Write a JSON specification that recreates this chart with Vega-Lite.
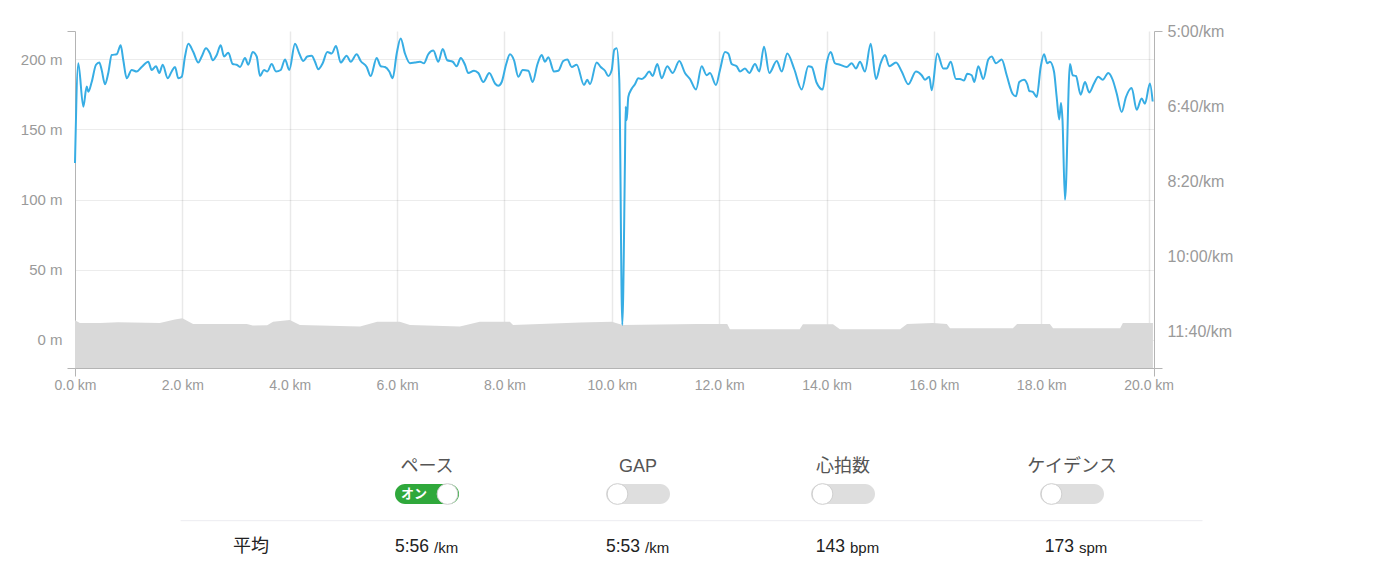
{
  "$schema": "https://vega.github.io/schema/vega-lite/v6.json",
  "background": "white",
  "padding": {"left": 20, "top": 23, "right": 0, "bottom": 0},
  "spacing": 62,
  "config": {
    "view": {"stroke": null},
    "font": "Liberation Sans",
    "axis": {
      "labelFont": "Liberation Sans",
      "labelFontSize": 15,
      "labelColor": "#9a9a9a",
      "domainColor": "#b4b4b4",
      "tickColor": "#b4b4b4",
      "tickSize": 8,
      "gridColor": "#000000",
      "labelFlush": false,
      "labelOverlap": false,
      "title": null,
      "zindex": 1
    }
  },
  "datasets": {
    "elev": [
      {"d": 0, "e": 14}, {"d": 0.09, "e": 12}, {"d": 0.47, "e": 12}, {"d": 0.8, "e": 12.5}, {"d": 1.58, "e": 12},
      {"d": 1.86, "e": 14.5}, {"d": 2.0, "e": 15.4}, {"d": 2.2, "e": 11.4}, {"d": 3.2, "e": 11.4}, {"d": 3.31, "e": 10.2},
      {"d": 3.58, "e": 10.5}, {"d": 3.69, "e": 13}, {"d": 4.0, "e": 14.2}, {"d": 4.19, "e": 10.7}, {"d": 4.56, "e": 10.2},
      {"d": 5.31, "e": 9.5}, {"d": 5.63, "e": 13}, {"d": 6.05, "e": 13}, {"d": 6.24, "e": 10.7}, {"d": 7.17, "e": 9.5},
      {"d": 7.54, "e": 13}, {"d": 8.1, "e": 13}, {"d": 8.16, "e": 10.7}, {"d": 9.41, "e": 12.4}, {"d": 10.0, "e": 13},
      {"d": 10.2, "e": 10.7}, {"d": 11.59, "e": 11.4}, {"d": 12.15, "e": 11.4}, {"d": 12.2, "e": 7.6}, {"d": 13.5, "e": 7.6},
      {"d": 13.56, "e": 11.2}, {"d": 14.12, "e": 11.2}, {"d": 14.25, "e": 7.6}, {"d": 15.37, "e": 7.6}, {"d": 15.5, "e": 11.4},
      {"d": 15.98, "e": 12}, {"d": 16.24, "e": 11.4}, {"d": 16.3, "e": 8.3}, {"d": 17.47, "e": 8.3}, {"d": 17.55, "e": 11.4},
      {"d": 18.16, "e": 11.4}, {"d": 18.22, "e": 8.3}, {"d": 19.47, "e": 8.3}, {"d": 19.52, "e": 12}, {"d": 20.08, "e": 12}
    ],
    "pace": [
      {"d": 0, "p": 476}, {"d": 0.061, "p": 343}, {"d": 0.155, "p": 401}, {"d": 0.218, "p": 374}, {"d": 0.248, "p": 381},
      {"d": 0.311, "p": 368}, {"d": 0.391, "p": 345}, {"d": 0.453, "p": 342}, {"d": 0.497, "p": 352}, {"d": 0.559, "p": 371},
      {"d": 0.62, "p": 356}, {"d": 0.684, "p": 332}, {"d": 0.777, "p": 331}, {"d": 0.851, "p": 319}, {"d": 0.9, "p": 339},
      {"d": 0.963, "p": 363}, {"d": 1.056, "p": 352}, {"d": 1.149, "p": 354}, {"d": 1.242, "p": 348}, {"d": 1.365, "p": 341},
      {"d": 1.429, "p": 352}, {"d": 1.509, "p": 347}, {"d": 1.57, "p": 356}, {"d": 1.634, "p": 345}, {"d": 1.727, "p": 363},
      {"d": 1.801, "p": 354}, {"d": 1.863, "p": 348}, {"d": 1.924, "p": 363}, {"d": 1.988, "p": 361}, {"d": 2.049, "p": 334},
      {"d": 2.111, "p": 317}, {"d": 2.204, "p": 328}, {"d": 2.297, "p": 342}, {"d": 2.36, "p": 334}, {"d": 2.44, "p": 323},
      {"d": 2.515, "p": 330}, {"d": 2.565, "p": 339}, {"d": 2.64, "p": 332}, {"d": 2.714, "p": 319}, {"d": 2.776, "p": 334},
      {"d": 2.856, "p": 329}, {"d": 2.938, "p": 344}, {"d": 3.012, "p": 345}, {"d": 3.074, "p": 348}, {"d": 3.167, "p": 336},
      {"d": 3.228, "p": 345}, {"d": 3.31, "p": 328}, {"d": 3.385, "p": 334}, {"d": 3.446, "p": 360}, {"d": 3.521, "p": 352},
      {"d": 3.582, "p": 354}, {"d": 3.664, "p": 344}, {"d": 3.744, "p": 354}, {"d": 3.832, "p": 352}, {"d": 3.912, "p": 338},
      {"d": 3.992, "p": 352}, {"d": 4.098, "p": 317}, {"d": 4.178, "p": 330}, {"d": 4.253, "p": 340}, {"d": 4.327, "p": 334},
      {"d": 4.409, "p": 333}, {"d": 4.471, "p": 341}, {"d": 4.532, "p": 351}, {"d": 4.614, "p": 343}, {"d": 4.7, "p": 328},
      {"d": 4.782, "p": 330}, {"d": 4.862, "p": 320}, {"d": 4.949, "p": 342}, {"d": 5.061, "p": 333}, {"d": 5.136, "p": 341},
      {"d": 5.247, "p": 331}, {"d": 5.322, "p": 340}, {"d": 5.434, "p": 348}, {"d": 5.508, "p": 360}, {"d": 5.62, "p": 336},
      {"d": 5.695, "p": 347}, {"d": 5.775, "p": 348}, {"d": 5.855, "p": 354}, {"d": 5.918, "p": 363}, {"d": 5.993, "p": 330},
      {"d": 6.067, "p": 310}, {"d": 6.147, "p": 330}, {"d": 6.24, "p": 343}, {"d": 6.333, "p": 342}, {"d": 6.427, "p": 341},
      {"d": 6.501, "p": 343}, {"d": 6.581, "p": 331}, {"d": 6.675, "p": 326}, {"d": 6.768, "p": 341}, {"d": 6.85, "p": 324},
      {"d": 6.935, "p": 339}, {"d": 7.036, "p": 341}, {"d": 7.11, "p": 347}, {"d": 7.185, "p": 336}, {"d": 7.265, "p": 345},
      {"d": 7.326, "p": 356}, {"d": 7.433, "p": 353}, {"d": 7.513, "p": 356}, {"d": 7.606, "p": 368}, {"d": 7.718, "p": 356},
      {"d": 7.824, "p": 370}, {"d": 7.885, "p": 373}, {"d": 7.949, "p": 368}, {"d": 8.029, "p": 345}, {"d": 8.103, "p": 331},
      {"d": 8.178, "p": 339}, {"d": 8.258, "p": 361}, {"d": 8.34, "p": 352}, {"d": 8.444, "p": 353}, {"d": 8.526, "p": 368},
      {"d": 8.612, "p": 345}, {"d": 8.694, "p": 332}, {"d": 8.755, "p": 341}, {"d": 8.817, "p": 335}, {"d": 8.923, "p": 354},
      {"d": 9.003, "p": 353}, {"d": 9.096, "p": 340}, {"d": 9.171, "p": 338}, {"d": 9.253, "p": 348}, {"d": 9.346, "p": 345},
      {"d": 9.482, "p": 372}, {"d": 9.543, "p": 365}, {"d": 9.593, "p": 371}, {"d": 9.718, "p": 342}, {"d": 9.793, "p": 348},
      {"d": 9.873, "p": 353}, {"d": 9.934, "p": 360}, {"d": 9.998, "p": 352}, {"d": 10.046, "p": 325}, {"d": 10.091, "p": 323},
      {"d": 10.139, "p": 365}, {"d": 10.195, "p": 692}, {"d": 10.245, "p": 472}, {"d": 10.258, "p": 401}, {"d": 10.277, "p": 419},
      {"d": 10.307, "p": 388}, {"d": 10.37, "p": 377}, {"d": 10.431, "p": 371}, {"d": 10.493, "p": 363}, {"d": 10.556, "p": 364},
      {"d": 10.618, "p": 361}, {"d": 10.698, "p": 354}, {"d": 10.761, "p": 360}, {"d": 10.847, "p": 344}, {"d": 10.929, "p": 363},
      {"d": 11.033, "p": 347}, {"d": 11.134, "p": 356}, {"d": 11.257, "p": 340}, {"d": 11.363, "p": 356}, {"d": 11.456, "p": 364},
      {"d": 11.568, "p": 378}, {"d": 11.674, "p": 347}, {"d": 11.767, "p": 359}, {"d": 11.829, "p": 356}, {"d": 11.94, "p": 372},
      {"d": 12.015, "p": 352}, {"d": 12.108, "p": 328}, {"d": 12.17, "p": 330}, {"d": 12.233, "p": 344}, {"d": 12.326, "p": 347},
      {"d": 12.388, "p": 354}, {"d": 12.481, "p": 350}, {"d": 12.561, "p": 356}, {"d": 12.667, "p": 344}, {"d": 12.747, "p": 354},
      {"d": 12.835, "p": 321}, {"d": 12.934, "p": 356}, {"d": 13.072, "p": 340}, {"d": 13.165, "p": 354}, {"d": 13.269, "p": 330},
      {"d": 13.399, "p": 351}, {"d": 13.537, "p": 378}, {"d": 13.66, "p": 347}, {"d": 13.723, "p": 348}, {"d": 13.816, "p": 369},
      {"d": 13.928, "p": 378}, {"d": 14.002, "p": 343}, {"d": 14.077, "p": 328}, {"d": 14.157, "p": 343}, {"d": 14.25, "p": 345},
      {"d": 14.375, "p": 348}, {"d": 14.468, "p": 343}, {"d": 14.548, "p": 350}, {"d": 14.623, "p": 341}, {"d": 14.716, "p": 354},
      {"d": 14.822, "p": 317}, {"d": 14.921, "p": 364}, {"d": 15.008, "p": 343}, {"d": 15.089, "p": 332}, {"d": 15.169, "p": 347},
      {"d": 15.294, "p": 342}, {"d": 15.4, "p": 354}, {"d": 15.523, "p": 371}, {"d": 15.666, "p": 354}, {"d": 15.772, "p": 359},
      {"d": 15.834, "p": 365}, {"d": 15.914, "p": 361}, {"d": 15.959, "p": 379}, {"d": 16.063, "p": 330}, {"d": 16.175, "p": 350},
      {"d": 16.238, "p": 350}, {"d": 16.313, "p": 341}, {"d": 16.411, "p": 364}, {"d": 16.486, "p": 364}, {"d": 16.56, "p": 366},
      {"d": 16.622, "p": 357}, {"d": 16.704, "p": 359}, {"d": 16.752, "p": 368}, {"d": 16.827, "p": 347}, {"d": 16.92, "p": 364},
      {"d": 17.013, "p": 338}, {"d": 17.076, "p": 334}, {"d": 17.156, "p": 343}, {"d": 17.263, "p": 338}, {"d": 17.356, "p": 359},
      {"d": 17.468, "p": 384}, {"d": 17.529, "p": 387}, {"d": 17.591, "p": 368}, {"d": 17.678, "p": 365}, {"d": 17.74, "p": 371},
      {"d": 17.777, "p": 380}, {"d": 17.84, "p": 381}, {"d": 17.915, "p": 388}, {"d": 17.989, "p": 348}, {"d": 18.051, "p": 331},
      {"d": 18.112, "p": 343}, {"d": 18.162, "p": 341}, {"d": 18.237, "p": 354}, {"d": 18.287, "p": 388}, {"d": 18.335, "p": 418},
      {"d": 18.367, "p": 396}, {"d": 18.395, "p": 418}, {"d": 18.442, "p": 525}, {"d": 18.535, "p": 344}, {"d": 18.585, "p": 359},
      {"d": 18.646, "p": 360}, {"d": 18.734, "p": 385}, {"d": 18.814, "p": 368}, {"d": 18.894, "p": 382}, {"d": 18.982, "p": 370},
      {"d": 19.062, "p": 361}, {"d": 19.144, "p": 365}, {"d": 19.248, "p": 356}, {"d": 19.33, "p": 365}, {"d": 19.404, "p": 383},
      {"d": 19.498, "p": 408}, {"d": 19.578, "p": 388}, {"d": 19.684, "p": 376}, {"d": 19.777, "p": 405}, {"d": 19.87, "p": 390},
      {"d": 19.931, "p": 397}, {"d": 20.024, "p": 370}, {"d": 20.075, "p": 394}
    ],
    "metrics": [
      {"col": 1, "title": "ペース", "value": "5:56", "unit": "/km", "on": true},
      {"col": 2, "title": "GAP", "value": "5:53", "unit": "/km", "on": false},
      {"col": 3, "title": "心拍数", "value": "143", "unit": "bpm", "on": false},
      {"col": 4, "title": "ケイデンス", "value": "173", "unit": "spm", "on": false}
    ],
    "rowlabel": [{"col": 0, "label": "平均"}]
  },
  "vconcat": [
    {
      "width": 1079,
      "height": 337,
      "layer": [
        {
          "data": {"name": "elev"},
          "mark": {"type": "area", "color": "#d9d9d9", "opacity": 1},
          "encoding": {
            "x": {
              "field": "d", "type": "quantitative",
              "scale": {"domain": [0, 20.1], "nice": false, "zero": false},
              "axis": {
                "values": [0, 2, 4, 6, 8, 10, 12, 14, 16, 18, 20, 20.1],
                "labelExpr": "datum.value > 20.05 ? '' : format(datum.value, '.1f') + ' km'",
                "labelFontSize": 14,
                "labelPadding": 2,
                "grid": true,
                "gridOpacity": {"condition": {"test": "datum.value == 0 || datum.value > 20.05", "value": 0}, "value": 0.085},
                "gridWidth": 1.5,
                "tickOpacity": {"condition": {"test": "datum.value == 0 || datum.value > 20.05", "value": 1}, "value": 0}
              }
            },
            "y": {
              "field": "e", "type": "quantitative",
              "scale": {"domain": [-20, 220], "nice": false, "zero": false},
              "axis": {
                "orient": "left",
                "values": [-20, 0, 50, 100, 150, 200, 220],
                "labelExpr": "(datum.value < 0 || datum.value > 210) ? '' : datum.value + ' m'",
                "labelFontSize": 15,
                "labelPadding": 5,
                "grid": true,
                "gridOpacity": {"condition": {"test": "datum.value < 0 || datum.value > 210", "value": 0}, "value": 0.075},
                "tickOpacity": {"condition": {"test": "datum.value < 0 || datum.value > 210", "value": 1}, "value": 0}
              }
            },
            "y2": {"datum": -20}
          }
        },
        {
          "data": {"name": "pace"},
          "mark": {"type": "line", "color": "#37ade4", "strokeWidth": 2, "interpolate": "monotone"},
          "encoding": {
            "x": {
              "field": "d", "type": "quantitative",
              "scale": {"domain": [0, 20.1], "nice": false, "zero": false}
            },
            "y": {
              "field": "p", "type": "quantitative",
              "scale": {"domain": [300, 749.33], "nice": false, "zero": false, "reverse": true},
              "axis": {
                "orient": "right",
                "values": [300, 400, 500, 600, 700, 749.33],
                "labelExpr": "datum.value > 745 ? '' : floor(datum.value / 60) + ':' + (datum.value % 60 < 10 ? '0' : '') + (datum.value % 60) + '/km'",
                "labelFontSize": 16,
                "labelPadding": 5,
                "grid": false,
                "tickOpacity": {"condition": {"test": "datum.value < 301 || datum.value > 745", "value": 1}, "value": 0}
              }
            }
          }
        }
      ],
      "resolve": {"scale": {"y": "independent"}, "axis": {"y": "independent"}}
    },
    {
      "width": 1079,
      "height": 106.7,
      "layer": [
        {
          "data": {"values": [{}]},
          "mark": {"type": "rule", "color": "#ececf0", "strokeWidth": 1},
          "encoding": {
            "x": {"datum": -0.4, "type": "quantitative", "scale": {"domain": [0, 1, 2, 3, 4], "range": [176, 352, 563, 768, 997]}, "axis": null},
            "x2": {"datum": 4.57},
            "y": {"datum": 2.0, "type": "quantitative", "scale": {"domain": [-0.5, 3.5], "reverse": true, "nice": false, "zero": false}, "axis": null}
          }
        },
        {
          "data": {"name": "metrics"},
          "mark": {"type": "text", "font": "Liberation Sans, Noto Sans CJK JP", "fontSize": 18, "color": "#555555", "baseline": "middle", "align": "center"},
          "encoding": {
            "x": {"field": "col", "type": "quantitative"},
            "y": {"datum": 0, "type": "quantitative"},
            "text": {"field": "title"}
          }
        },
        {
          "data": {"name": "metrics"},
          "mark": {"type": "rect", "width": 64, "height": 20, "cornerRadius": 10},
          "encoding": {
            "x": {"field": "col", "type": "quantitative"},
            "y": {"datum": 1, "type": "quantitative"},
            "color": {"condition": {"test": "datum.on", "value": "#2fa83b"}, "value": "#dedede"}
          }
        },
        {
          "data": {"name": "metrics"},
          "transform": [{"filter": "datum.on"}],
          "mark": {"type": "text", "text": "オン", "font": "Noto Sans CJK JP", "fontSize": 13, "fontWeight": "bold", "color": "white", "baseline": "middle", "align": "center", "dx": -13},
          "encoding": {
            "x": {"field": "col", "type": "quantitative"},
            "y": {"datum": 1, "type": "quantitative"}
          }
        },
        {
          "data": {"name": "metrics"},
          "transform": [{"filter": "datum.on"}],
          "mark": {"type": "point", "shape": "circle", "filled": true, "size": 430, "color": "white", "stroke": "#cfcfcf", "strokeWidth": 1, "opacity": 1, "xOffset": 20.5},
          "encoding": {
            "x": {"field": "col", "type": "quantitative"},
            "y": {"datum": 1, "type": "quantitative"}
          }
        },
        {
          "data": {"name": "metrics"},
          "transform": [{"filter": "!datum.on"}],
          "mark": {"type": "point", "shape": "circle", "filled": true, "size": 430, "color": "white", "stroke": "#cfcfcf", "strokeWidth": 1, "opacity": 1, "xOffset": -20.5},
          "encoding": {
            "x": {"field": "col", "type": "quantitative"},
            "y": {"datum": 1, "type": "quantitative"}
          }
        },
        {
          "data": {"name": "metrics"},
          "mark": {"type": "text", "font": "Liberation Sans", "fontSize": 17.5, "color": "#222222", "baseline": "middle", "align": "right", "dx": 2},
          "encoding": {
            "x": {"field": "col", "type": "quantitative"},
            "y": {"datum": 3, "type": "quantitative"},
            "text": {"field": "value"}
          }
        },
        {
          "data": {"name": "metrics"},
          "mark": {"type": "text", "font": "Liberation Sans", "fontSize": 15, "color": "#222222", "baseline": "middle", "align": "left", "dx": 7, "dy": 1},
          "encoding": {
            "x": {"field": "col", "type": "quantitative"},
            "y": {"datum": 3, "type": "quantitative"},
            "text": {"field": "unit"}
          }
        },
        {
          "data": {"name": "rowlabel"},
          "mark": {"type": "text", "font": "Noto Sans CJK JP", "fontSize": 18, "color": "#222222", "baseline": "middle", "align": "center"},
          "encoding": {
            "x": {"field": "col", "type": "quantitative"},
            "y": {"datum": 3, "type": "quantitative"},
            "text": {"field": "label"}
          }
        }
      ]
    }
  ]
}
